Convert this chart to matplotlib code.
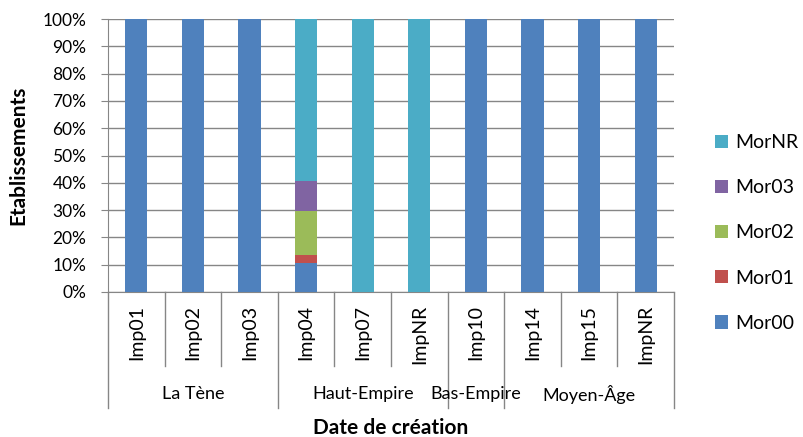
import matplotlib
matplotlib.use("Agg")
import matplotlib.pyplot as plt
from matplotlib.ticker import PercentFormatter, MultipleLocator

plt.rcParams['font.family'] = ['Lato', 'DejaVu Sans']

categories = ["Imp01", "Imp02", "Imp03", "Imp04", "Imp07", "ImpNR",
              "Imp10", "Imp14", "Imp15", "ImpNR"]
groups = ["La Tène", "Haut-Empire", "Bas-Empire", "Moyen-Âge"]
group_sizes = [3, 3, 1, 3]

series_names = ["Mor00", "Mor01", "Mor02", "Mor03", "MorNR"]
mor00 = [100, 100, 100, 10.8, 0, 0, 100, 100, 100, 100]
mor01 = [0, 0, 0, 2.7, 0, 0, 0, 0, 0, 0]
mor02 = [0, 0, 0, 16.2, 0, 0, 0, 0, 0, 0]
mor03 = [0, 0, 0, 10.8, 0, 0, 0, 0, 0, 0]
mornr = [0, 0, 0, 59.5, 100, 100, 0, 0, 0, 0]
series_values = [mor00, mor01, mor02, mor03, mornr]
colors = ["#4F81BD", "#C0504D", "#9BBB59", "#8064A2", "#4BACC6"]

fig = plt.figure(figsize=(8.04, 4.37), dpi=100)
W, H = 804, 437
left, right, top, bottom = 108, 674, 19, 292
ax = fig.add_axes([left / W, 1 - bottom / H, (right - left) / W, (bottom - top) / H])

x = list(range(len(categories)))
base = [0] * len(categories)
handles = []
for name, vals, c in zip(series_names, series_values, colors):
    b = ax.bar(x, vals, bottom=base, width=0.39, color=c, label=name, zorder=3)
    handles.append(b)
    base = [p + v for p, v in zip(base, vals)]

ax.set_xlim(-0.5, len(categories) - 0.5)
ax.set_ylim(0, 100)
ax.yaxis.set_major_locator(MultipleLocator(10))
ax.yaxis.set_major_formatter(PercentFormatter(decimals=0))
ax.grid(axis='y', color='#868686', linewidth=1.0, zorder=0)
for s in ['top', 'right']:
    ax.spines[s].set_visible(False)
ax.spines['left'].set_color('#868686')
ax.spines['bottom'].set_color('#868686')
ax.tick_params(axis='y', length=5, color='#868686', labelsize=12.5, pad=10.5)
ax.tick_params(axis='x', length=0, labelbottom=False)

# Multi-level category axis
tr = ax.get_xaxis_transform()
row1 = -0.271
row2 = -0.425
bounds = [-0.5]
acc = -0.5
for g in group_sizes:
    acc += g
    bounds.append(acc)
for i in range(len(categories) + 1):
    xb = i - 0.5
    ybot = row2 if any(abs(xb - gb) < 1e-9 for gb in bounds) else row1
    ax.plot([xb, xb], [0, ybot], transform=tr, color='#868686',
            linewidth=1.0, clip_on=False, zorder=1)
for i, lab in enumerate(categories):
    ax.text(i, -0.048, lab, transform=tr, rotation=90, ha='center', va='top',
            fontsize=14)
for gi, g in enumerate(groups):
    c = (bounds[gi] + bounds[gi + 1]) / 2
    ax.text(c, -0.374, g, transform=tr, ha='center', va='center', fontsize=13)

ax.set_xlabel("Date de création", fontsize=15, fontweight='bold')
ax.xaxis.set_label_coords(0.5, -0.46)
ax.set_ylabel("Etablissements", fontsize=15, fontweight='bold')
ax.yaxis.set_label_coords(-0.141, 0.5)

leg = fig.legend(handles[::-1], series_names[::-1], loc='upper left',
                 bbox_to_anchor=(715 / W, 1 - 134 / H), frameon=False,
                 borderpad=0, borderaxespad=0,
                 fontsize=14, handlelength=0.68, handleheight=0.68,
                 handletextpad=0.36, labelspacing=1.45)

fig.savefig("out.png", dpi=100)
